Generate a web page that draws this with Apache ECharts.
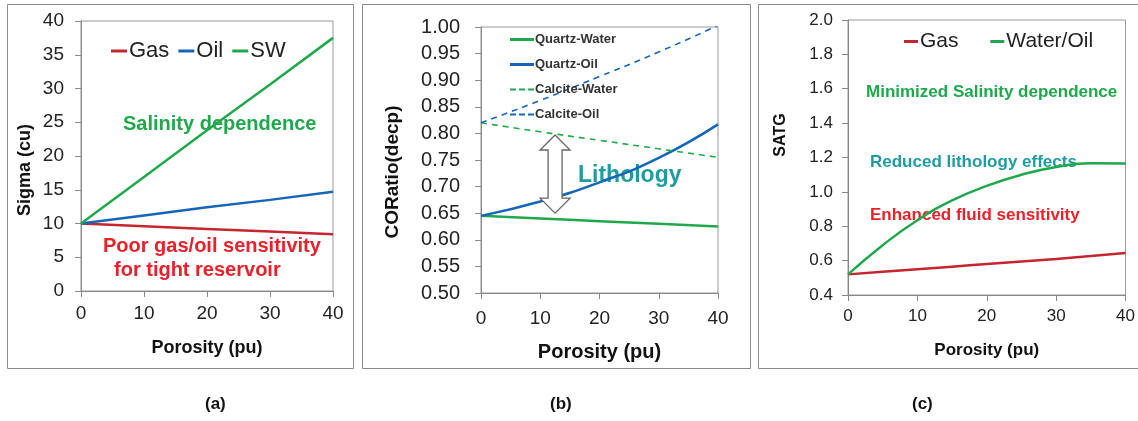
<!DOCTYPE html>
<html>
<head>
<meta charset="utf-8">
<script src="https://cdn.jsdelivr.net/npm/echarts@6/dist/echarts.min.js"></script>
<style>
  html, body { margin: 0; padding: 0; background: #fff; }
  #chart { width: 1138px; height: 421px; }
</style>
</head>
<body>
<div id="chart"></div>
<script>
// porosity values (pu), shared by all three panels
var porosity = [0, 10, 20, 30, 40];
var porosityFine = [0, 5, 10, 15, 20, 25, 30, 35, 40];

// (a) Sigma (cu)
var sigmaGas = [10, 9.6, 9.2, 8.8, 8.4];
var sigmaOil = [10, 11.2, 12.4, 13.5, 14.7];
var sigmaSW = [10, 16.9, 23.8, 30.6, 37.5];

// (b) COR ratio (decp)
var quartzWater = [0.645, 0.640, 0.635, 0.630, 0.625];
var quartzOil = [0.645, 0.672, 0.708, 0.754, 0.817];
var calciteWater = [0.820, 0.803, 0.787, 0.771, 0.755];
var calciteOil = [0.820, 0.862, 0.907, 0.953, 1.003];
// lithology arrow: porosity, from, to
var arrowX = 12.5;
var arrowRange = [0.797, 0.650];

// (c) SATG
var satgGas = [0.52, 0.535, 0.55, 0.565, 0.58, 0.595, 0.61, 0.627, 0.645];
var satgWaterOil = [0.52, 0.69, 0.835, 0.95, 1.035, 1.10, 1.145, 1.167, 1.165];

var FONT = '"Liberation Sans", Arial, sans-serif';
var GREEN = '#1fa84c';
var BLUE = '#1666b8';
var DARKRED = '#c3262e';
var RED = '#e8212a';
var TEAL = '#1f9c9f';

// legend icons for panel (b): solid and dashed line samples
var SOLID_ICON = 'rect';
var DASH_ICON = 'path://M0,0h6v2h-6z M9,0h6v2h-6z M18,0h6v2h-6z';

function pairs(xs, ys) {
  return xs.map(function (x, i) { return [x, ys[i]]; });
}

function xAxisFor(idx, nameSize, gap, labelSize, margin) {
  return {
    gridIndex: idx, type: 'value', min: 0, max: 40, interval: 10,
    name: 'Porosity (pu)', nameLocation: 'middle', nameGap: gap,
    nameTextStyle: { fontFamily: FONT, fontWeight: 'bold', fontSize: nameSize, color: '#111' },
    axisLine: { lineStyle: { color: '#888' } },
    axisTick: { show: true, length: 6, lineStyle: { color: '#888' } },
    axisLabel: { fontFamily: FONT, fontSize: labelSize, color: '#222', margin: margin },
    splitLine: { show: false }
  };
}

function yAxisFor(idx, min, max, step, labelSize, margin, digits) {
  return {
    gridIndex: idx, type: 'value', min: min, max: max, interval: step,
    axisLine: { show: true, lineStyle: { color: '#888' } },
    axisTick: { show: true, length: 6, lineStyle: { color: '#888' } },
    axisLabel: { fontFamily: FONT, fontSize: labelSize, color: '#222', margin: margin,
      formatter: function (v) { return v.toFixed(digits); } },
    splitLine: { show: false }
  };
}

function yName(text, x, y, size) {
  return { type: 'text', x: x, y: y, rotation: Math.PI / 2,
    style: { text: text, fill: '#111', font: 'bold ' + size + 'px ' + FONT,
      textAlign: 'center', textVerticalAlign: 'middle' } };
}

var chart = echarts.init(document.getElementById('chart'));

var option = {
  animation: false,
  grid: [
    { left: 81, top: 21, width: 252, height: 270, show: true, borderColor: '#999', borderWidth: 1 },
    { left: 481, top: 27, width: 237, height: 266, show: true, borderColor: '#999', borderWidth: 1 },
    { left: 848, top: 20, width: 283, height: 275, show: true, borderColor: '#999', borderWidth: 1 }
  ],
  xAxis: [
    xAxisFor(0, 18, 48, 19, 13),
    xAxisFor(1, 20, 49, 19, 16),
    xAxisFor(2, 17, 47, 17, 13)
  ],
  yAxis: [
    yAxisFor(0, 0, 40, 5, 19, 17, 0),
    yAxisFor(1, 0.5, 1.0, 0.05, 20, 21, 2),
    yAxisFor(2, 0.4, 2.0, 0.2, 17, 15, 1)
  ],
  legend: [
    {
      data: ['Gas', 'Oil', 'SW'],
      left: 106, top: 35, icon: 'rect', itemWidth: 16, itemHeight: 3, itemGap: 9,
      textStyle: { fontFamily: FONT, fontSize: 22, color: '#222', padding: [0, 0, 0, -3] }
    },
    {
      data: [
        { name: 'Quartz-Water', icon: SOLID_ICON },
        { name: 'Quartz-Oil', icon: SOLID_ICON },
        { name: 'Calcite-Water', icon: DASH_ICON },
        { name: 'Calcite-Oil', icon: DASH_ICON }
      ],
      orient: 'vertical', left: 505, top: 27, itemWidth: 24, itemHeight: 3, itemGap: 10,
      textStyle: { fontFamily: FONT, fontSize: 13, fontWeight: 'bold', color: '#333',
        padding: [0, 0, 0, -4], lineHeight: 15 }
    },
    {
      data: ['Gas ', 'Water/Oil'],
      left: 899, top: 26, icon: 'rect', itemWidth: 14, itemHeight: 3, itemGap: 26,
      textStyle: { fontFamily: FONT, fontSize: 21, color: '#222', padding: [0, 0, 0, -3] }
    }
  ],
  series: [
    { name: 'Gas', type: 'line', xAxisIndex: 0, yAxisIndex: 0, symbol: 'none',
      data: pairs(porosity, sigmaGas), color: DARKRED, lineStyle: { width: 2.5 } },
    { name: 'Oil', type: 'line', xAxisIndex: 0, yAxisIndex: 0, symbol: 'none',
      data: pairs(porosity, sigmaOil), color: BLUE, lineStyle: { width: 2.5 } },
    { name: 'SW', type: 'line', xAxisIndex: 0, yAxisIndex: 0, symbol: 'none',
      data: pairs(porosity, sigmaSW), color: GREEN, lineStyle: { width: 2.5 } },

    { name: 'Quartz-Water', type: 'line', xAxisIndex: 1, yAxisIndex: 1, symbol: 'none', smooth: true,
      data: pairs(porosity, quartzWater), color: GREEN, lineStyle: { width: 2.5 } },
    { name: 'Quartz-Oil', type: 'line', xAxisIndex: 1, yAxisIndex: 1, symbol: 'none', smooth: true,
      data: pairs(porosity, quartzOil), color: BLUE, lineStyle: { width: 2.5 } },
    { name: 'Calcite-Water', type: 'line', xAxisIndex: 1, yAxisIndex: 1, symbol: 'none', smooth: true,
      data: pairs(porosity, calciteWater), color: GREEN, lineStyle: { width: 1.6, type: [6, 5] } },
    { name: 'Calcite-Oil', type: 'line', xAxisIndex: 1, yAxisIndex: 1, symbol: 'none', smooth: true,
      data: pairs(porosity, calciteOil), color: BLUE, lineStyle: { width: 1.6, type: [6, 5] } },
    {
      name: 'arrow', type: 'custom', xAxisIndex: 1, yAxisIndex: 1, silent: true, z: 5,
      data: [[arrowX, arrowRange[0], arrowRange[1]]],
      renderItem: function (params, api) {
        var top = api.coord([api.value(0), api.value(1)]);
        var bot = api.coord([api.value(0), api.value(2)]);
        var cx = top[0], hw = 15, sw = 7, hl = 15;
        var pts = [
          [cx, top[1]], [cx + hw, top[1] + hl], [cx + sw, top[1] + hl],
          [cx + sw, bot[1] - hl], [cx + hw, bot[1] - hl], [cx, bot[1]],
          [cx - hw, bot[1] - hl], [cx - sw, bot[1] - hl], [cx - sw, top[1] + hl],
          [cx - hw, top[1] + hl]
        ];
        return { type: 'polygon', shape: { points: pts },
          style: { fill: '#fff', stroke: '#666', lineWidth: 1.3 } };
      }
    },

    { name: 'Gas ', type: 'line', xAxisIndex: 2, yAxisIndex: 2, symbol: 'none', smooth: 0.5,
      data: pairs(porosityFine, satgGas), color: DARKRED, lineStyle: { width: 2.5 } },
    { name: 'Water/Oil', type: 'line', xAxisIndex: 2, yAxisIndex: 2, symbol: 'none', smooth: 0.5,
      data: pairs(porosityFine, satgWaterOil), color: GREEN, lineStyle: { width: 2.5 } }
  ],
  graphic: [
    // panel frames
    { type: 'rect', shape: { x: 7.5, y: 4.5, width: 346, height: 364 }, style: { fill: 'none', stroke: '#8a8a8a', lineWidth: 1 }, z: -1 },
    { type: 'rect', shape: { x: 362.5, y: 4.5, width: 388, height: 364 }, style: { fill: 'none', stroke: '#8a8a8a', lineWidth: 1 }, z: -1 },
    { type: 'rect', shape: { x: 758.5, y: 4.5, width: 390, height: 364 }, style: { fill: 'none', stroke: '#8a8a8a', lineWidth: 1 }, z: -1 },

    // y axis names
    yName('Sigma (cu)', 25, 170, 18),
    yName('CORatio(decp)', 393, 172, 19),
    yName('SATG', 781, 135, 16),

    // panel (a) notes
    { type: 'text', left: 123, top: 114, style: { text: 'Salinity dependence', fill: GREEN, font: 'bold 20px ' + FONT } },
    { type: 'text', left: 103, top: 236, style: { text: 'Poor gas/oil sensitivity', fill: RED, font: 'bold 20px ' + FONT } },
    { type: 'text', left: 114, top: 260, style: { text: 'for tight reservoir', fill: RED, font: 'bold 20px ' + FONT } },

    // panel (b) note
    { type: 'text', left: 578, top: 164, style: { text: 'Lithology', fill: TEAL, font: 'bold 23px ' + FONT } },

    // panel (c) notes
    { type: 'text', left: 866, top: 84, style: { text: 'Minimized Salinity dependence', fill: GREEN, font: 'bold 17px ' + FONT } },
    { type: 'text', left: 870, top: 154, style: { text: 'Reduced lithology effects', fill: TEAL, font: 'bold 17px ' + FONT } },
    { type: 'text', left: 870, top: 207, style: { text: 'Enhanced fluid sensitivity', fill: RED, font: 'bold 17px ' + FONT } },

    // sub-figure labels
    { type: 'text', left: 205, top: 396, style: { text: '(a)', fill: '#111', font: 'bold 17px ' + FONT } },
    { type: 'text', left: 550, top: 396, style: { text: '(b)', fill: '#111', font: 'bold 17px ' + FONT } },
    { type: 'text', left: 912, top: 396, style: { text: '(c)', fill: '#111', font: 'bold 17px ' + FONT } }
  ]
};

chart.setOption(option);
</script>
</body>
</html>
